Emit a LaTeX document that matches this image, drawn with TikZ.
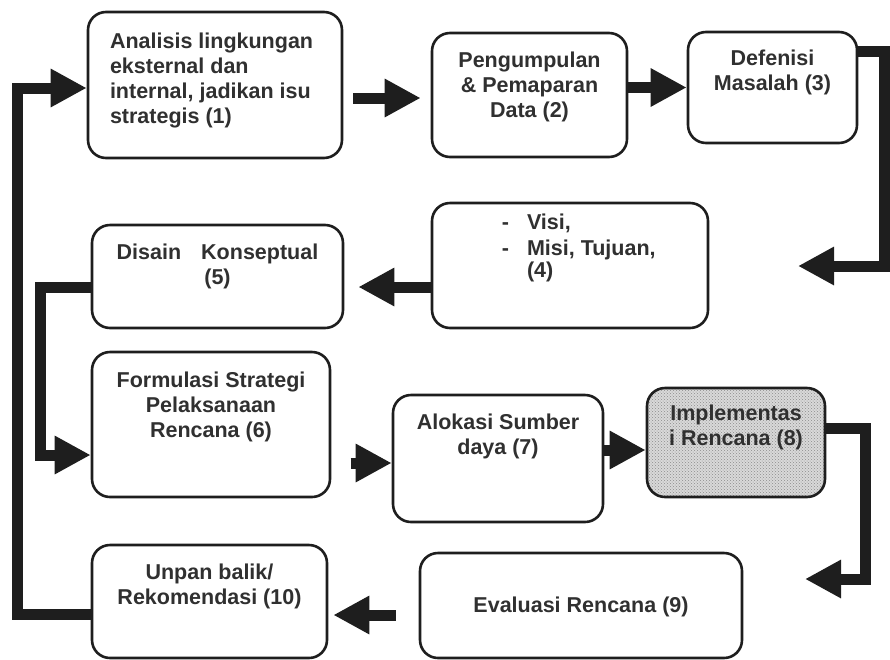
\documentclass[tikz,border=0pt]{standalone}
\usepackage{fontspec}
\setmainfont{Liberation Sans}
\usetikzlibrary{arrows.meta,calc,patterns}

\definecolor{ink}{HTML}{1E1E1E}
\definecolor{txt}{HTML}{303030}

% fixed-size box body: width, height, space above first line, text
\newcommand\boxbody[4]{\parbox[c][#2][t]{#1}{\vspace*{#3}#4}}
% hanging dash in front of a list line
\newcommand\dashitem{\leavevmode\llap{-\hspace{18pt}}}

\tikzset{
  stage/.style={draw=ink, line width=2.6pt, rounded corners=18pt, inner sep=0pt,
    fill=white, text=txt, font=\bfseries\fontsize{21.5}{25}\selectfont},
  shaded/.style={preaction={fill=black!15}, pattern=crosshatch dots, pattern color=black!45},
  flow/.style={draw=ink, line width=11pt, -{Triangle[length=36pt,width=36pt]}},
}

\begin{document}
\begin{tikzpicture}[x=1pt, y=-1pt]
\useasboundingbox (0,0) rectangle (890,659);

% process stages
\node[stage] (b1) at (215,85)
  {\boxbody{254pt}{146pt}{21pt}{\raggedright\leftskip=22pt Analisis lingkungan\\eksternal dan\\internal, jadikan isu\\strategis (1)}};
\node[stage] (b2) at (529.5,95)
  {\boxbody{195pt}{124pt}{19pt}{\centering Pengumpulan\\\&\ Pemaparan\\Data (2)}};
\node[stage] (b3) at (772.5,87.5)
  {\boxbody{169pt}{111pt}{18pt}{\centering Defenisi\\Masalah (3)}};
\node[stage] (b4) at (570,265.5)
  {\boxbody{276pt}{125pt}{11pt}{\raggedright\leftskip=95pt \dashitem Visi,\\[1pt]\dashitem Misi, Tujuan,\\[-3pt](4)}};
\node[stage] (b5) at (217.5,276.5)
  {\boxbody{251pt}{103pt}{19pt}{\centering Disain\hspace{20pt}Konseptual\\(5)}};
\node[stage] (b6) at (211,424.5)
  {\boxbody{238pt}{145pt}{20pt}{\centering Formulasi Strategi\\Pelaksanaan\\Rencana (6)}};
\node[stage] (b7) at (498,458.5)
  {\boxbody{210pt}{127pt}{19pt}{\centering Alokasi Sumber\\daya (7)}};
\node[stage, shaded] (b8) at (736,442.5)
  {\boxbody{178pt}{109pt}{17pt}{\centering Implementas\\i Rencana (8)}};
\node[stage] (b9) at (581,605.5)
  {\boxbody{322pt}{105pt}{44pt}{\centering Evaluasi Rencana (9)}};
\node[stage] (b10) at (209.5,601.5)
  {\boxbody{235pt}{113pt}{19pt}{\centering Unpan balik/\\Rekomendasi (10)}};

% free arrow ends
\coordinate (p4) at (798,266);
\coordinate (p9) at (805,579);

% connectors
\draw[flow] ($(b1.east)+(10,13)$) -- ($(b2.west)+(-10,3)$);
\draw[flow] (b2.east |- b3.west) -- (b3.west);
\draw[flow] ($(b3.east)+(0,-36)$) -| ($(p4)+(86,0)$) -- (p4);
\draw[flow] ($(b4.west)+(0,21.5)$) -- ($(b5.east)+(14,10.5)$);
\draw[flow] ($(b5.west)+(0,10.5)$) -| ($(b6.west)+(-50,30.5)$) -- ($(b6.west)+(0,30.5)$);
\draw[flow] ($(b7.west)+(-41,4.5)$) -- ($(b7.west)+(0,4.5)$);
\draw[flow] ($(b7.east)+(0,-8.5)$) -- ($(b8.west)+(0,7.5)$);
\draw[flow] ($(b8.east)+(0,-14)$) -| ($(p9)+(60,0)$) -- (p9);
\draw[flow] ($(b9.west)+(-23,9.5)$) -- ($(b10.east)+(5,13.5)$);
\draw[flow] ($(b10.west)+(0,13)$) -| ($(b1.west)+(-69,3)$) -- ($(b1.west)+(0,3)$);
\end{tikzpicture}
\end{document}
